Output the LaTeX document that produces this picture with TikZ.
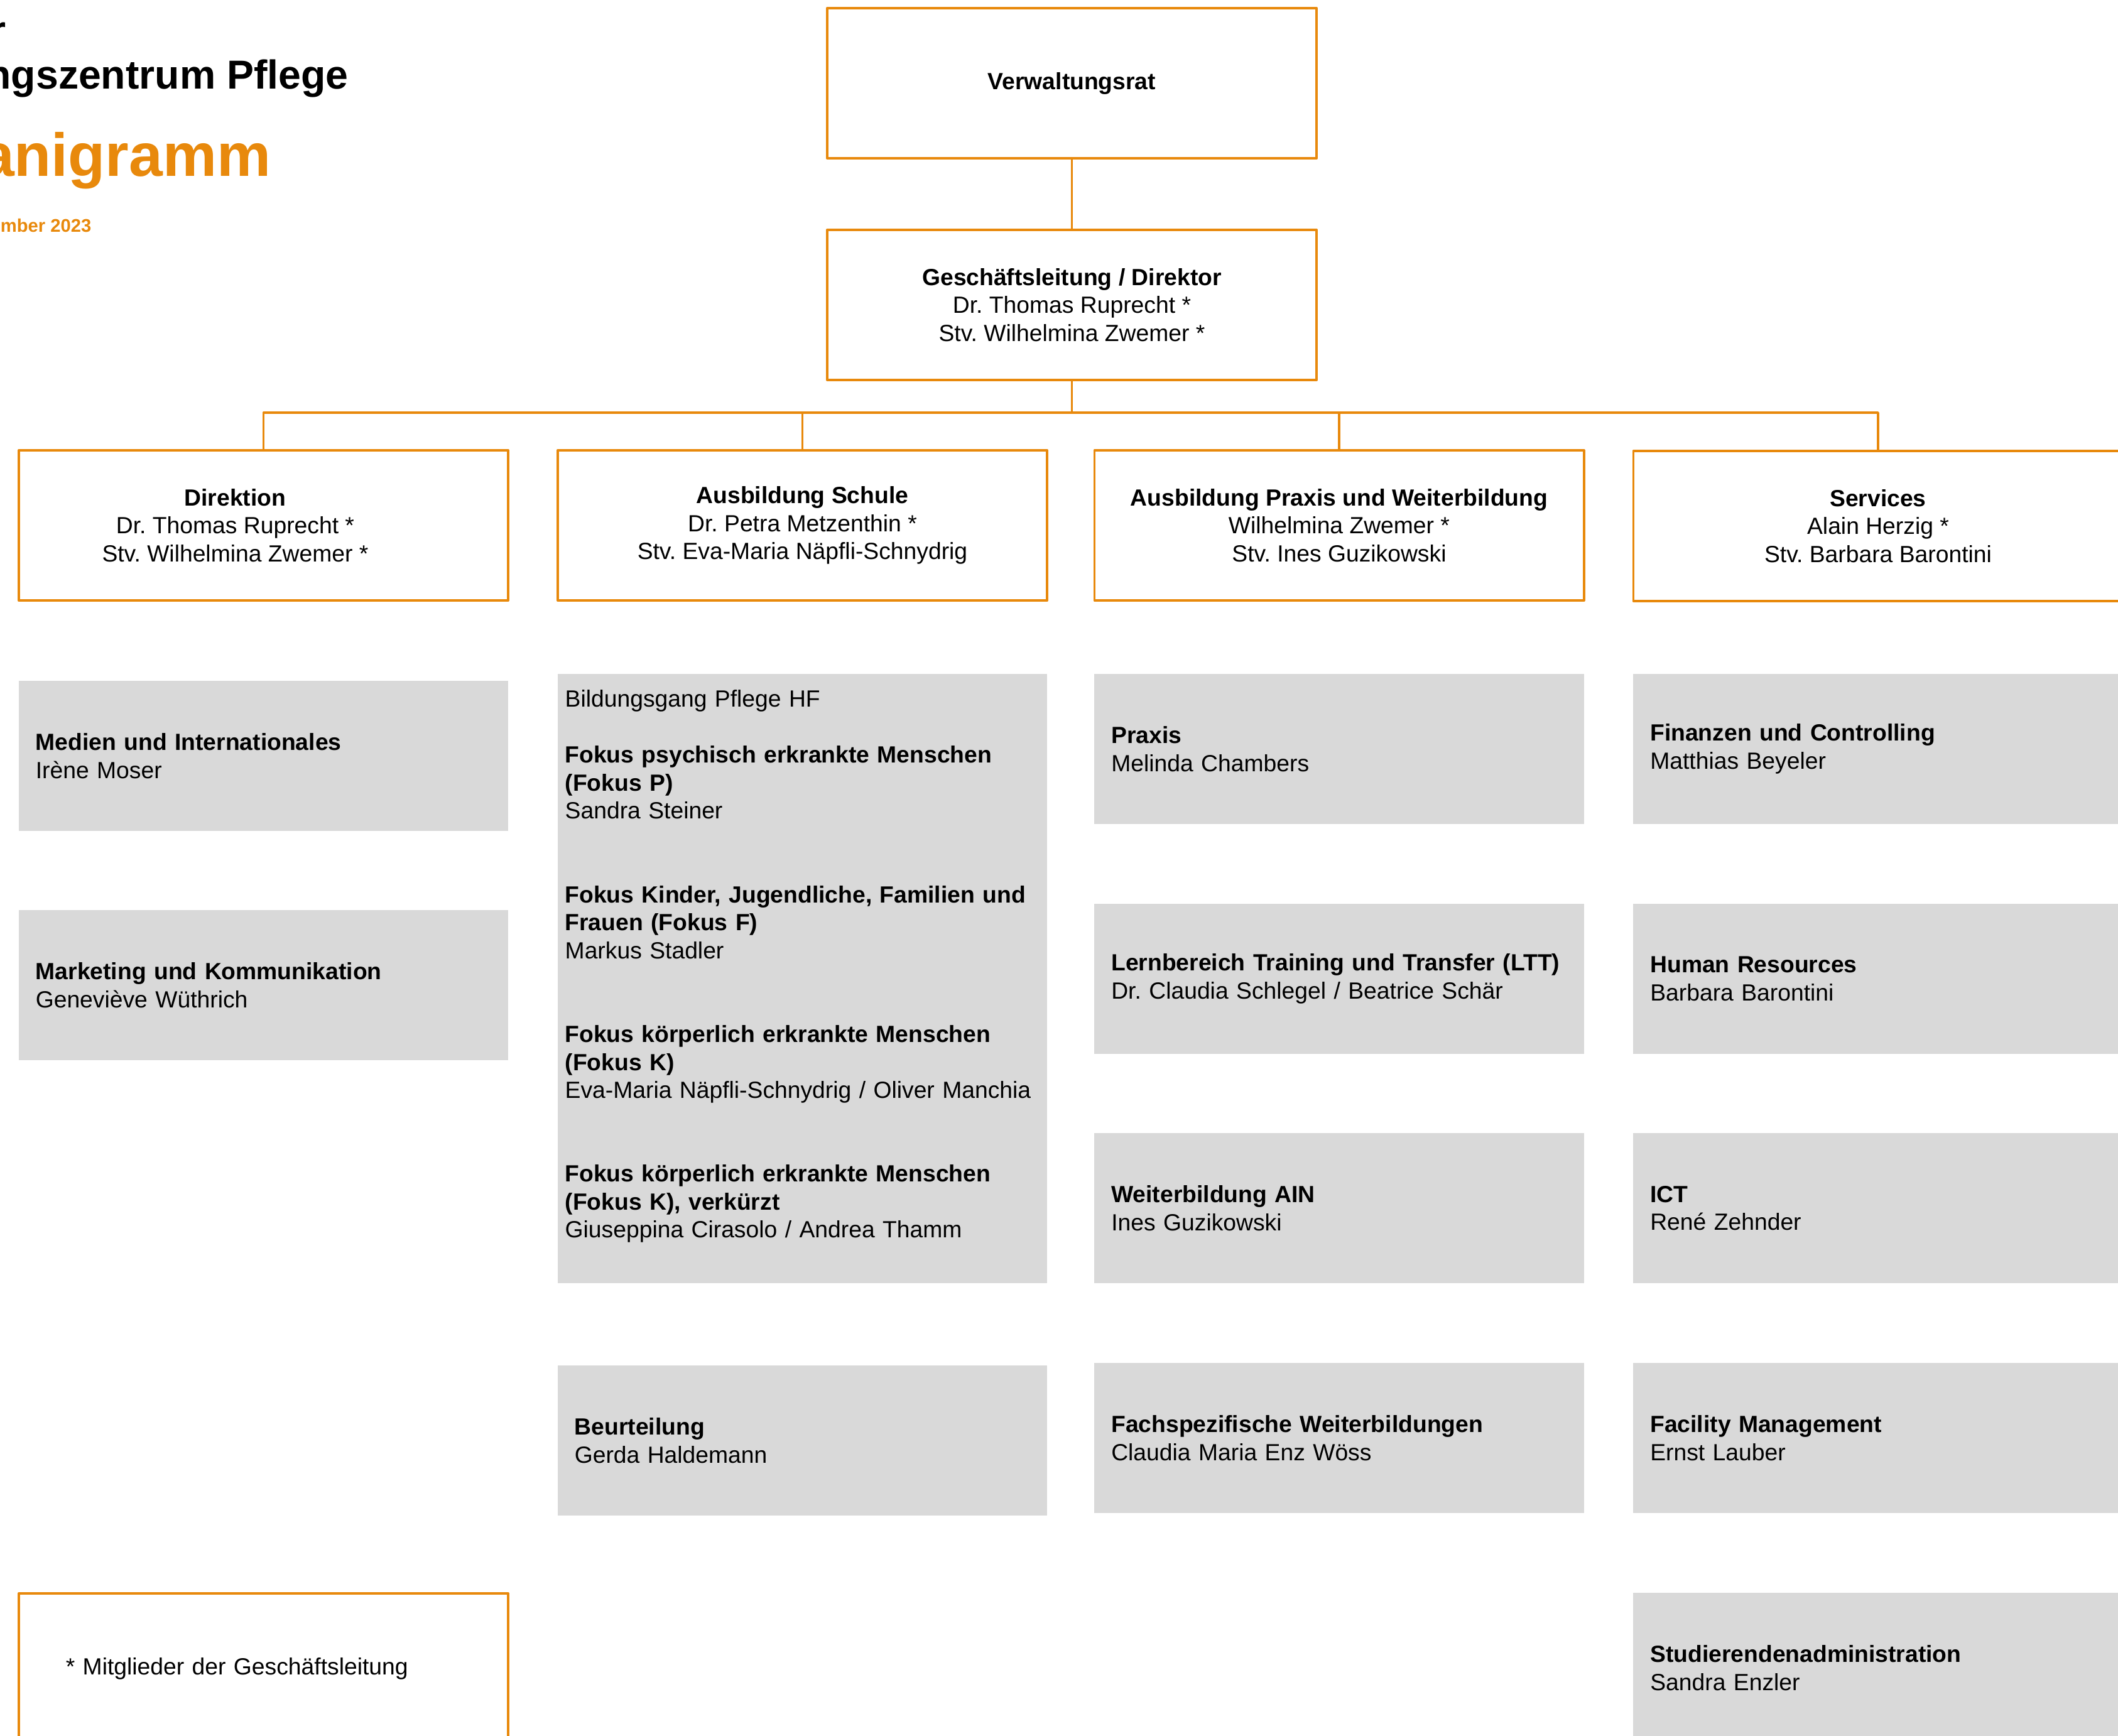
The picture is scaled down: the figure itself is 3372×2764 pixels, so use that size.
\documentclass[tikz,border=0pt]{standalone}
\usepackage{fontspec}
\setmainfont{Liberation Sans}
\frenchspacing
\definecolor{bzorange}{HTML}{E8890C}
\definecolor{bzgray}{HTML}{D9D9D9}
\newcommand\bodysize{\fontsize{10.6}{12.65}\selectfont}
\begin{document}
\begin{tikzpicture}[x=0.01cm, y=-0.01cm, line join=round,
    headbox/.style={draw=bzorange, line width=1pt, minimum width=7.79cm, minimum height=2.39cm,
      inner sep=0pt, align=center, font=\bodysize},
    unitbox/.style={fill=bzgray, minimum width=7.79cm, minimum height=2.39cm, inner xsep=0.27cm,
      inner ysep=0pt, text width=7.25cm, align=left, font=\bodysize},
    titletext/.style={anchor=base east, inner sep=0pt},
    link/.style={draw=bzorange, line width=1pt}]
\useasboundingbox (0,0) rectangle (3372,2764);

\node[titletext, font=\fontsize{18.3}{21}\selectfont\bfseries] (t1) at (10,71) {r};
\node[titletext, font=\fontsize{18.3}{21}\selectfont\bfseries] (t2) at (555,142) {ngszentrum Pflege};
\node[titletext, text=bzorange, font=\fontsize{27.5}{30}\selectfont\bfseries] (t3) at (432,281) {anigramm};
\node[titletext, text=bzorange, font=\fontsize{8.3}{10}\selectfont\bfseries] (t4) at (146,370) {mber 2023};

\node[headbox] (vr) at (1706.5,132.5) {\textbf{Verwaltungsrat}};
\node[headbox] (gl) at (1706.5,485.5) {\textbf{Geschäftsleitung / Direktor}\\Dr. Thomas Ruprecht *\\Stv. Wilhelmina Zwemer *};

\node[headbox, label={[font=\bodysize, align=center, xshift=-0.45cm]center:{\textbf{Direktion}\\Dr. Thomas Ruprecht *\\Stv. Wilhelmina Zwemer *}}] (dir) at (419.5,836.5) {};
\node[headbox] (schule) at (1277.5,836.5) {\textbf{Ausbildung Schule}\\Dr. Petra Metzenthin *\\Stv. Eva-Maria Näpfli-Schnydrig};
\node[headbox] (praxis) at (2132,836.5) {\textbf{Ausbildung Praxis und Weiterbildung}\\Wilhelmina Zwemer *\\Stv. Ines Guzikowski};
\node[headbox] (serv) at (2990,837.5) {\textbf{Services}\\Alain Herzig *\\Stv. Barbara Barontini};

\coordinate (bus) at (1706.5,657);
\draw[link] (vr) -- (gl);
\draw[link] (gl) -- (bus);
\foreach \n in {dir,schule,praxis,serv}
  \draw[link] (\n.north) |- (bus);

\node[unitbox] (medien) at (419.5,1203.5) {\textbf{Medien und Internationales}\\Irène Moser};
\node[unitbox] (marketing) at (419.5,1568.5) {\textbf{Marketing und Kommunikation}\\Geneviève Wüthrich};

\node[unitbox, minimum height=9.70cm] (hf) at (1277.5,1558) {};
\node[anchor=north west, inner sep=0pt, text width=7.65cm, align=left, font=\bodysize] (hftext) at (899,1098) {Bildungsgang Pflege HF\\[12.65pt]
  \textbf{Fokus psychisch erkrankte Menschen}\\\textbf{(Fokus P)}\\Sandra Steiner\\[25.3pt]
  \textbf{Fokus Kinder, Jugendliche, Familien und}\\\textbf{Frauen (Fokus F)}\\Markus Stadler\\[25.3pt]
  \textbf{Fokus körperlich erkrankte Menschen}\\\textbf{(Fokus K)}\\Eva-Maria Näpfli-Schnydrig / Oliver Manchia\\[25.3pt]
  \textbf{Fokus körperlich erkrankte Menschen}\\\textbf{(Fokus K), verkürzt}\\Giuseppina Cirasolo / Andrea Thamm};
\node[unitbox] (beurteilung) at (1277.5,2293.5) {\textbf{Beurteilung}\\Gerda Haldemann};

\node[unitbox] (praxisunit) at (2132,1192.5) {\textbf{Praxis}\\Melinda Chambers};
\node[unitbox] (ltt) at (2132,1558.5) {\textbf{Lernbereich Training und Transfer (LTT)}\\Dr. Claudia Schlegel / Beatrice Schär};
\node[unitbox] (ain) at (2132,1923.5) {\textbf{Weiterbildung AIN}\\Ines Guzikowski};
\node[unitbox] (fachspez) at (2132,2289.5) {\textbf{Fachspezifische Weiterbildungen}\\Claudia Maria Enz Wöss};

\node[unitbox] (finanzen) at (2990,1192.5) {\textbf{Finanzen und Controlling}\\Matthias Beyeler};
\node[unitbox] (hr) at (2990,1558.5) {\textbf{Human Resources}\\Barbara Barontini};
\node[unitbox] (ict) at (2990,1923.5) {\textbf{ICT}\\René Zehnder};
\node[unitbox] (facility) at (2990,2289.5) {\textbf{Facility Management}\\Ernst Lauber};
\node[unitbox] (studadmin) at (2990,2655.5) {\textbf{Studierendenadministration}\\Sandra Enzler};

\node[headbox, text width=6.29cm, inner xsep=0.75cm, align=left] (legende) at (419.5,2656.5) {* Mitglieder der Geschäftsleitung};
\end{tikzpicture}
\end{document}
